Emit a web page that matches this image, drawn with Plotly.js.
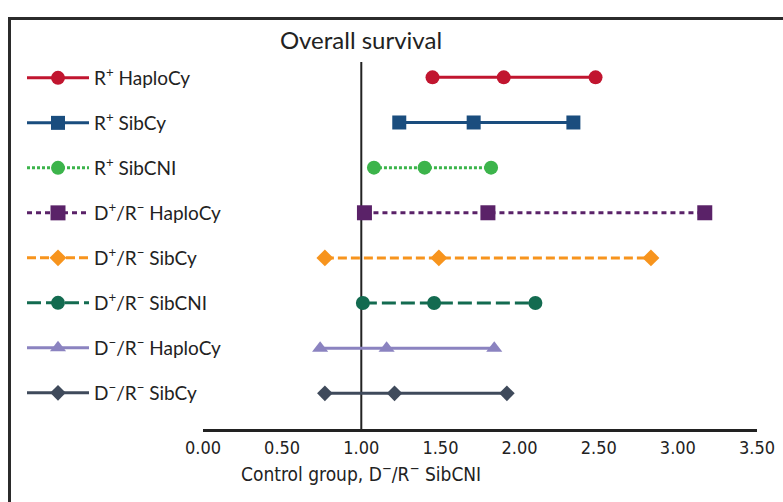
<!DOCTYPE html>
<html>
<head>
<meta charset="utf-8">
<script src="https://cdn.plot.ly/plotly-3.0.1.min.js"></script>
<style>
  html, body { margin: 0; padding: 0; background: #fff; }
  #wrap { position: relative; width: 783px; height: 502px; overflow: hidden; }
  #frame { position: absolute; left: 8px; top: 17px; width: 900px; height: 600px;
           border-left: 3px solid #2b2b2b; border-top: 3px solid #2b2b2b; }
  #chart { position: absolute; left: 0; top: 0; width: 783px; height: 502px; }
</style>
</head>
<body>
<div id="wrap">
  <div id="frame"></div>
  <div id="chart"></div>
</div>
<script>
// ---- data ----
const categories = [
  "R<sup>+</sup> HaploCy",
  "R<sup>+</sup> SibCy",
  "R<sup>+</sup> SibCNI",
  "D<sup>+</sup>/R<sup>−</sup> HaploCy",
  "D<sup>+</sup>/R<sup>−</sup> SibCy",
  "D<sup>+</sup>/R<sup>−</sup> SibCNI",
  "D<sup>−</sup>/R<sup>−</sup> HaploCy",
  "D<sup>−</sup>/R<sup>−</sup> SibCy"
];
const lowerCI  = [1.45, 1.24, 1.08, 1.02, 0.77, 1.01, 0.74, 0.77];
const estimate = [1.90, 1.71, 1.40, 1.80, 1.49, 1.46, 1.16, 1.21];
const upperCI  = [2.48, 2.34, 1.82, 3.17, 2.83, 2.10, 1.84, 1.92];
const tickVals = [0, 0.5, 1, 1.5, 2, 2.5, 3, 3.5];
const tickText = ["0.00", "0.50", "1.00", "1.50", "2.00", "2.50", "3.00", "3.50"];
const referenceValue = 1.0;

// ---- styles ----
const colors  = ["#c1152f", "#1a4d7e", "#3cb44b", "#5a2268", "#f7941d", "#136b50", "#8b83c0", "#3f4a5b"];
const symbols = ["circle", "square", "circle", "square", "diamond", "circle", "triangle-up", "diamond"];
const sizes   = [14, 14, 14, 15, 13, 14, 14, 12];
const dashes  = ["solid", "solid", "3px,2px", "5px,4px", "9px,4px", "14px,5px", "solid", "solid"];

const narrow = "'Liberation Sans Narrow', 'DejaVu Sans Condensed', 'Roboto Condensed', Roboto, sans-serif";
const legendFont = "Lato, 'Open Sans', sans-serif";

const traces = categories.map((c, i) => ({
  type: "scatter",
  mode: "lines+markers",
  name: c,
  legendgroup: "g" + i,
  x: [lowerCI[i], estimate[i], upperCI[i]],
  y: [c, c, c],
  line: { color: colors[i], width: 3, dash: dashes[i] },
  marker: { color: colors[i], symbol: symbols[i], size: sizes[i], line: { width: 0 } },
  hoverinfo: "x+name"
}));

const layout = {
  width: 783, height: 502,
  margin: { l: 203, r: 26, t: 62, b: 73 },
  paper_bgcolor: "rgba(0,0,0,0)",
  plot_bgcolor: "rgba(0,0,0,0)",
  showlegend: true,
  title: {
    text: "Overall survival",
    font: { family: legendFont, size: 24, color: "#222" },
    xref: "paper", x: (361 - 203) / 554, xanchor: "center",
    yref: "container", y: 1 - 41 / 502, yanchor: "middle"
  },
  xaxis: {
    range: [0, 3.5],
    tickvals: tickVals, ticktext: tickText,
    showgrid: false, zeroline: false,
    showline: true, linecolor: "#222", linewidth: 3,
    ticks: "",
    tickfont: { family: narrow, size: 18, color: "#222" },
    fixedrange: true
  },
  yaxis: {
    type: "category",
    categoryorder: "array", categoryarray: categories,
    range: [7.79, -0.34],
    showticklabels: false, showgrid: false, zeroline: false, showline: false,
    fixedrange: true
  },
  shapes: [{
    type: "line", xref: "x", yref: "paper",
    x0: referenceValue, x1: referenceValue, y0: 0, y1: 1,
    line: { color: "#222", width: 2 }, layer: "below"
  }],
  annotations: [{
    text: "Control group, D<sup>−</sup>/R<sup>−</sup> SibCNI",
    xref: "x", x: referenceValue, xanchor: "center",
    yref: "paper", y: -0.12, yanchor: "middle",
    showarrow: false,
    font: { family: narrow, size: 19, color: "#222" }
  }],
  legend: {
    x: (22 - 203) / 554, xanchor: "left",
    y: 1 + (62 - 59) / 368, yanchor: "top",
    bgcolor: "rgba(0,0,0,0)",
    font: { family: legendFont, size: 19, color: "#222" },
    itemwidth: 62,
    tracegroupgap: 17.3,
    traceorder: "grouped",
    maxheight: 480
  }
};

Plotly.newPlot("chart", traces, layout, { displayModeBar: false, staticPlot: true });
</script>
</body>
</html>
